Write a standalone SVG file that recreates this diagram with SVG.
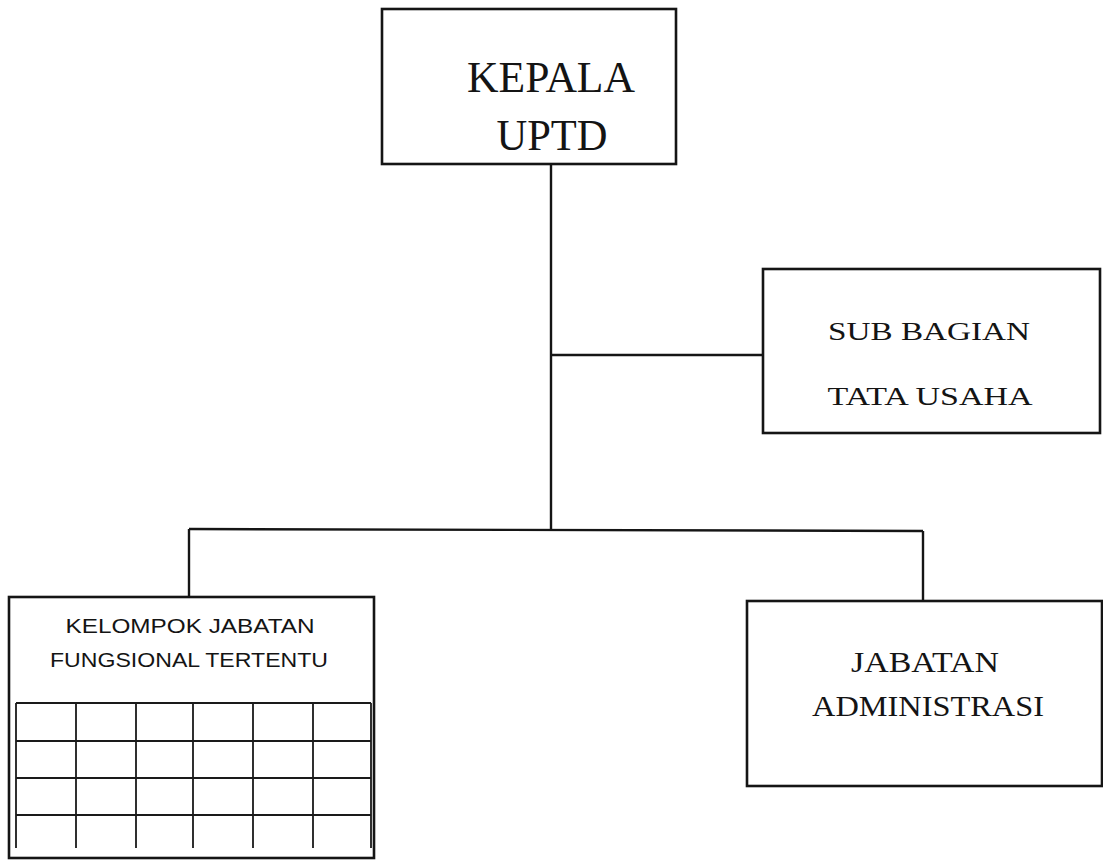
<svg xmlns="http://www.w3.org/2000/svg" width="1103" height="860" viewBox="0 0 1103 860">
<style>
.box{fill:none;stroke:#151515;stroke-width:2.6}
.con{fill:none;stroke:#151515;stroke-width:2.4}
.grid{fill:none;stroke:#1a1a1a;stroke-width:1.8}
.serif{font-family:"Liberation Serif","Times New Roman",serif;fill:#141414;text-anchor:middle}
.sans{font-family:"Liberation Sans",Arial,sans-serif;fill:#141414;text-anchor:middle}
</style>
<rect width="1103" height="860" fill="#ffffff"/>
<g id="connectors">
<path class="con" d="M551 164 V530"/>
<path class="con" d="M551 355 H763"/>
<path class="con" d="M189 529 L923 531"/>
<path class="con" d="M189 529 V597"/>
<path class="con" d="M923 531 V601"/>
</g>
<g id="kepala">
<rect class="box" x="382" y="9" width="294" height="155"/>
<text class="serif" x="551" y="92" font-size="44" textLength="168" lengthAdjust="spacingAndGlyphs">KEPALA</text>
<text class="serif" x="552" y="150" font-size="44" textLength="111" lengthAdjust="spacingAndGlyphs">UPTD</text>
</g>
<g id="subbagian">
<rect class="box" x="763" y="269" width="337" height="164"/>
<text class="serif" x="929" y="340" font-size="26" textLength="202" lengthAdjust="spacingAndGlyphs">SUB BAGIAN</text>
<text class="serif" x="930" y="405" font-size="26" textLength="205" lengthAdjust="spacingAndGlyphs">TATA USAHA</text>
</g>
<g id="fungsional">
<rect class="box" x="9" y="597" width="365" height="261"/>
<text class="sans" x="190" y="633" font-size="21" textLength="249" lengthAdjust="spacingAndGlyphs">KELOMPOK JABATAN</text>
<text class="sans" x="189" y="667" font-size="21" textLength="278" lengthAdjust="spacingAndGlyphs">FUNGSIONAL TERTENTU</text>
<path class="grid" d="M16 703 H371 M16 741 H371 M16 778 H371 M16 815 H371 M16 703 V848 M76 703 V848 M136 703 V848 M193 703 V848 M253 703 V848 M313 703 V848 M371 703 V848"/>
</g>
<g id="administrasi">
<rect class="box" x="747" y="601" width="355" height="185"/>
<text class="serif" x="925" y="672" font-size="30" textLength="148" lengthAdjust="spacingAndGlyphs">JABATAN</text>
<text class="serif" x="928" y="716" font-size="30" textLength="232" lengthAdjust="spacingAndGlyphs">ADMINISTRASI</text>
</g>
</svg>
